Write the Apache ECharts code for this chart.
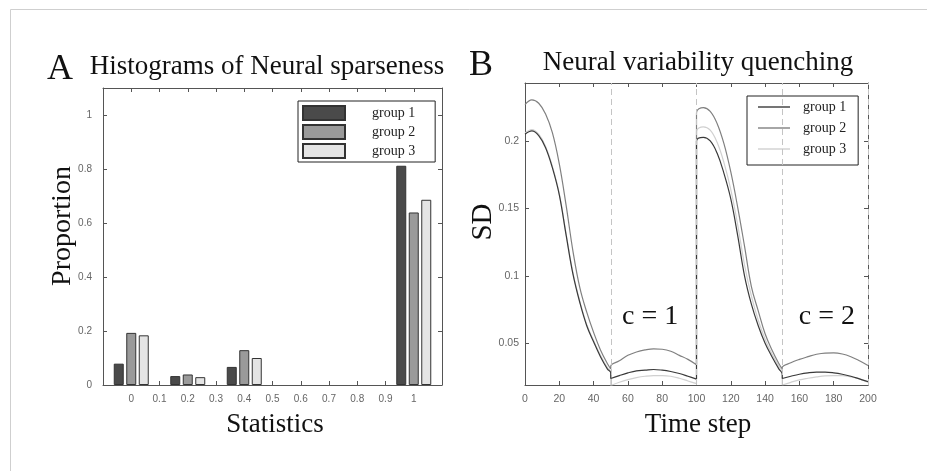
<!DOCTYPE html>
<html><head><meta charset="utf-8">
<script src="https://cdn.jsdelivr.net/npm/echarts@6/dist/echarts.min.js"></script>
<style>html,body{margin:0;padding:0;background:#fff}#c{width:927px;height:471px}</style>
</head><body><div id="c"></div><script>
// ---- Panel A data ----
const histBins = [0, 0.2, 0.4, 1];
const histGroup1 = [0.079, 0.033, 0.067, 0.812];
const histGroup2 = [0.193, 0.039, 0.129, 0.639];
const histGroup3 = [0.184, 0.029, 0.100, 0.686];
const histXTicks = [0, 0.1, 0.2, 0.3, 0.4, 0.5, 0.6, 0.7, 0.8, 0.9, 1];
const histYTicks = [0, 0.2, 0.4, 0.6, 0.8, 1];
// ---- Panel B data ----
const timeSteps = [0,4,8,12,16,20,24,28,32,36,40,44,48,50,
  50,55,60,65,70,75,80,85,90,95,100,
  100,104,108,112,116,120,124,128,132,136,140,144,148,150,
  150,155,160,165,170,175,180,185,190,195,200];
const sdGroup1 = [0.205,0.2075,0.204,0.195,0.180,0.160,0.130,0.101,0.080,0.063,0.051,0.040,0.031,0.028,
  0.0238,0.026,0.028,0.0295,0.030,0.0305,0.030,0.029,0.0275,0.0255,0.0234,
  0.200,0.2027,0.200,0.191,0.176,0.157,0.130,0.100,0.079,0.063,0.050,0.040,0.031,0.027,
  0.0238,0.0255,0.027,0.028,0.0285,0.0285,0.028,0.027,0.0255,0.0235,0.0215];
const sdGroup2 = [0.227,0.2305,0.228,0.220,0.206,0.183,0.152,0.118,0.091,0.073,0.058,0.045,0.035,0.031,
  0.033,0.037,0.041,0.0435,0.045,0.0458,0.0455,0.044,0.041,0.038,0.034,
  0.221,0.2248,0.222,0.213,0.198,0.177,0.151,0.122,0.092,0.074,0.057,0.045,0.035,0.031,
  0.032,0.0355,0.038,0.040,0.0418,0.0427,0.0428,0.042,0.040,0.037,0.0335];
const sdGroup3 = [0.206,0.2085,0.205,0.196,0.181,0.161,0.131,0.102,0.081,0.064,0.052,0.041,0.032,0.029,
  0.0185,0.021,0.023,0.0245,0.0255,0.026,0.026,0.0255,0.024,0.022,0.020,
  0.207,0.2105,0.208,0.199,0.184,0.164,0.138,0.108,0.085,0.067,0.053,0.042,0.033,0.029,
  0.019,0.021,0.0228,0.024,0.025,0.0258,0.026,0.026,0.025,0.0235,0.021];
const sdTicks = [0.05, 0.1, 0.15, 0.2];
const timeTicks = [0,20,40,60,80,100,120,140,160,180,200];
const conditionBounds = [50, 100, 150, 200];
const conditionLabels = [{name: 'c = 1', t: 73, sd: 0.0695}, {name: 'c = 2', t: 176, sd: 0.0695}];

const SERIF = '"Liberation Serif","Times New Roman",serif';
const SANS = '"Liberation Sans",Arial,sans-serif';
const axisCol = '#555';
const labCol = '#666';

function pairs(xs, ys){ return xs.map((x,i)=>[x, ys[i]]); }
function baseAxis(extra){
  return Object.assign({
    axisLine: {show: true, onZero: false, lineStyle: {color: axisCol, width: 1}},
    axisTick: {show: true, inside: true, length: 4, lineStyle: {color: axisCol}},
    splitLine: {show: false},
  }, extra);
}

const chart = echarts.init(document.getElementById('c'), null, {renderer: 'canvas'});
const barStyle = (c)=>({color: c, borderColor: '#333', borderWidth: 1});
const lineSeries = (name, data, color, z, extra) => Object.assign({
  name, type: 'line', xAxisIndex: 2, yAxisIndex: 2, symbol: 'none', showSymbol: false, smooth: 0.4,
  lineStyle: {color, width: 1.2}, itemStyle: {color}, z, data
}, extra || {});

chart.setOption({
  animation: false,
  backgroundColor: '#fff',
  grid: [
    {left: 103, top: 88, width: 339, height: 297},
    {left: 525, top: 83, width: 343, height: 302}
  ],
  xAxis: [
    baseAxis({gridIndex: 0, type: 'value', min: -0.1, max: 1.1, interval: 0.1, position: 'bottom',
      axisLabel: {color: labCol, fontFamily: SANS, fontSize: 10, margin: 9,
        formatter: v => { const r = Math.round(v*10)/10; return histXTicks.includes(r) ? String(r) : ''; }}}),
    baseAxis({gridIndex: 0, type: 'value', min: -0.1, max: 1.1, interval: 0.1, position: 'top',
      axisLabel: {show: false}}),
    baseAxis({gridIndex: 1, type: 'value', min: 0, max: 200, interval: 20, position: 'bottom',
      axisLabel: {color: labCol, fontFamily: SANS, fontSize: 10.5, margin: 9,
        formatter: v => timeTicks.includes(Math.round(v)) ? String(Math.round(v)) : ''}}),
    baseAxis({gridIndex: 1, type: 'value', min: 0, max: 200, interval: 20, position: 'top',
      axisLabel: {show: false}})
  ],
  yAxis: [
    baseAxis({gridIndex: 0, type: 'value', min: 0, max: 1.1, interval: 0.2, position: 'left',
      axisLabel: {color: labCol, fontFamily: SANS, fontSize: 10, margin: 11,
        formatter: v => { const r = Math.round(v*10)/10; return histYTicks.includes(r) ? String(r) : ''; }}}),
    baseAxis({gridIndex: 0, type: 'value', min: 0, max: 1.1, interval: 0.2, position: 'right',
      axisLabel: {show: false}}),
    baseAxis({gridIndex: 1, type: 'value', min: 0.019, max: 0.243, splitNumber: 5, position: 'left',
      axisLabel: {color: labCol, fontFamily: SANS, fontSize: 10.5, margin: 6,
        formatter: v => { const r = Math.round(v*100)/100; return (sdTicks.includes(r) && Math.abs(v-r) < 1e-6) ? String(r) : ''; }}}),
    baseAxis({gridIndex: 1, type: 'value', min: 0.019, max: 0.243, splitNumber: 5, position: 'right',
      axisLabel: {show: false}})
  ],
  legend: [
    {
      data: ['group 1', 'group 2', 'group 3'],
      orient: 'vertical', left: 298, top: 101,
      itemWidth: 42, itemHeight: 14, itemGap: 3, icon: 'rect',
      padding: [4, 20, 3, 4],
      borderColor: '#222', borderWidth: 1, backgroundColor: '#fff',
      textStyle: {fontFamily: SERIF, fontSize: 14, lineHeight: 14, color: '#222', padding: [0, 0, 0, 22]},
      selectedMode: false
    },
    {
      data: ['B group 1', 'B group 2', 'B group 3'],
      orient: 'vertical', left: 747, top: 96,
      itemWidth: 32, itemHeight: 1.4, itemGap: 7, icon: 'rect',
      padding: [4, 12, 9, 11],
      borderColor: '#222', borderWidth: 1, backgroundColor: '#fff',
      formatter: n => n.replace(/^B /, ''),
      textStyle: {fontFamily: SERIF, fontSize: 14, lineHeight: 14, color: '#222', padding: [0, 0, 0, 8]},
      selectedMode: false
    }
  ],
  series: [
    {name: 'group 1', type: 'bar', xAxisIndex: 0, yAxisIndex: 0, barWidth: 10, barGap: '25%',
      itemStyle: barStyle('#4a4a4a'), data: pairs(histBins, histGroup1)},
    {name: 'group 2', type: 'bar', xAxisIndex: 0, yAxisIndex: 0, barWidth: 10, barGap: '25%',
      itemStyle: barStyle('#9a9a9a'), data: pairs(histBins, histGroup2)},
    {name: 'group 3', type: 'bar', xAxisIndex: 0, yAxisIndex: 0, barWidth: 10, barGap: '25%',
      itemStyle: barStyle('#e4e4e4'), data: pairs(histBins, histGroup3)},
    lineSeries('B group 1', pairs(timeSteps, sdGroup1), '#3a3a3a', 4, {
      markLine: {silent: true, symbol: 'none', label: {show: false},
        lineStyle: {color: '#c4c4c4', type: [6, 4], width: 1},
        data: conditionBounds.map(b => ({xAxis: b}))},
      markPoint: {symbolSize: 0, silent: true,
        label: {show: true, position: 'inside', formatter: '{b}', fontFamily: SERIF, fontSize: 28, color: '#111'},
        data: conditionLabels.map(c => ({name: c.name, coord: [c.t, c.sd]}))}
    }),
    lineSeries('B group 2', pairs(timeSteps, sdGroup2), '#808080', 3),
    lineSeries('B group 3', pairs(timeSteps, sdGroup3), '#d0d0d0', 2)
  ],
  graphic: [
    {type: 'rect', silent: true, z: -1, shape: {x: 10.5, y: 9.5, width: 2000, height: 2000},
      style: {fill: 'none', stroke: '#cfcfcf', lineWidth: 1}},
    {type: 'text', style: {text: 'A', x: 60, y: 70, align: 'center', verticalAlign: 'middle', font: '36px ' + SERIF, fill: '#111'}},
    {type: 'text', style: {text: 'Histograms of Neural sparseness', x: 267, y: 67, align: 'center', verticalAlign: 'middle', font: '27px ' + SERIF, fill: '#111'}},
    {type: 'text', style: {text: 'B', x: 481, y: 66, align: 'center', verticalAlign: 'middle', font: '36px ' + SERIF, fill: '#111'}},
    {type: 'text', style: {text: 'Neural variability quenching', x: 698, y: 63, align: 'center', verticalAlign: 'middle', font: '27px ' + SERIF, fill: '#111'}},
    {type: 'text', style: {text: 'Statistics', x: 275, y: 425, align: 'center', verticalAlign: 'middle', font: '27px ' + SERIF, fill: '#111'}},
    {type: 'text', style: {text: 'Time step', x: 698, y: 425, align: 'center', verticalAlign: 'middle', font: '27px ' + SERIF, fill: '#111'}},
    {type: 'text', rotation: Math.PI/2, x: 63, y: 226, style: {text: 'Proportion', x: 0, y: 0, align: 'center', verticalAlign: 'middle', font: '28px ' + SERIF, fill: '#111'}},
    {type: 'text', rotation: Math.PI/2, x: 483, y: 222, style: {text: 'SD', x: 0, y: 0, align: 'center', verticalAlign: 'middle', font: '29px ' + SERIF, fill: '#111'}}
  ]
});
</script></body></html>
